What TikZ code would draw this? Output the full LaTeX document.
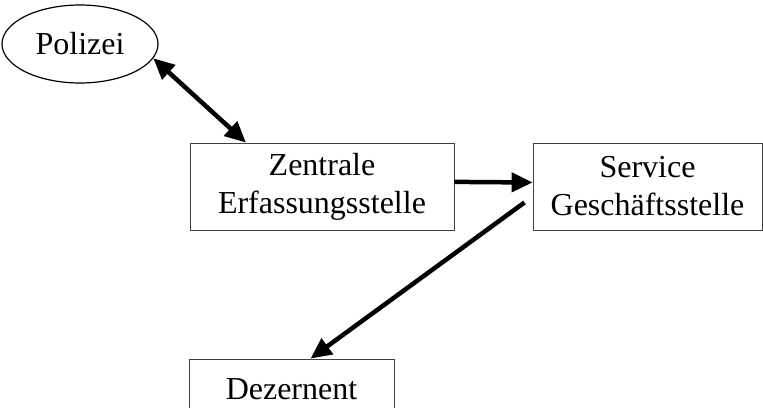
\documentclass[tikz,border=0pt]{standalone}
\usepackage{fontspec}
\setmainfont{Liberation Serif}
\usetikzlibrary{arrows.meta,shapes.geometric}

\begin{document}
\begin{tikzpicture}[x=1pt,y=-1pt,>={Triangle[length=21pt,width=19pt]}]
\tikzstyle{every node}+=[inner sep=0pt,font=\fontsize{32}{38}\selectfont,align=center]
\tikzstyle{amt}=[draw=black!75,line width=0.8pt,rectangle]
\tikzstyle{pfeil}=[line width=4.5pt]
\clip (0,0) rectangle (763,407);
\node [draw,line width=1.2pt,ellipse,minimum width=156,minimum height=78] (polizei) at (80,44) {Polizei};
\node [amt,minimum width=264,minimum height=87] (zentrale) at (322,186.5) {Zentrale\\Erfassungsstelle};
\node [amt,minimum width=229,minimum height=87] (service) at (647.5,186.5) {Service\\Geschäftsstelle};
\node [amt,minimum width=205,minimum height=60] (dezernent) at (291.5,389) {Dezernent};
\draw [pfeil,<->] (polizei.-11.6) -- (zentrale.150);
\draw [pfeil,->] (zentrale.2) -- (service.178);
\draw [pfeil,->,shorten <=10pt] (service.185) -- (dezernent.58);
\end{tikzpicture}
\end{document}
